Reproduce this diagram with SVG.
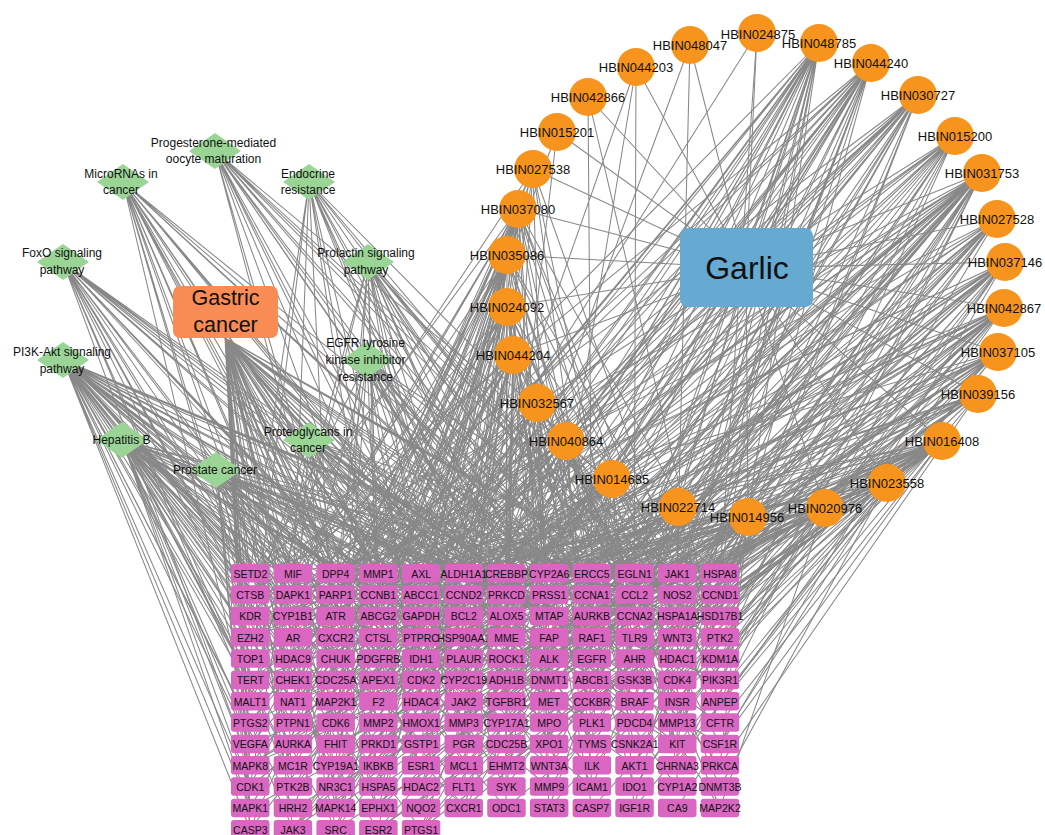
<svg xmlns="http://www.w3.org/2000/svg" xmlns:xlink="http://www.w3.org/1999/xlink" width="1045" height="835" viewBox="0 0 1045 835">
<style>
text{font-family:"Liberation Sans",Arial,sans-serif;fill:#111}
.e path{stroke:#888;stroke-width:1.05;fill:none}
.c{fill:#f7941d}
.d{fill:#9ad596}
.ct{font-size:13px;text-anchor:middle}
.dt{font-size:12px;text-anchor:middle}
.gr rect{fill:#d966c0;width:38.5px;height:18.5px;rx:3px;ry:3px}
.gr text{font-size:10.5px;text-anchor:middle}
</style>
<defs>
<polygon id="dm" class="d" points="-26,0 0,-18 26,0 0,18"/>
</defs>
<rect width="1045" height="835" fill="#fff"/>
<g id="edges" class="e">
<path id="e-gastric" d="M225 338L250 573M225 338L293 573M225 338L336 573M225 338L378 573M225 338L421 573M225 338L464 573M225 338L506 573M225 338L549 573M225 338L250 595M225 338L336 595M225 338L421 595M225 338L506 595M225 338L592 595M225 338L293 616M225 338L378 616M225 338L464 616M225 338L549 616M225 338L634 616M225 338L250 637M225 338L336 637M225 338L421 637M225 338L677 637M225 338L293 659M225 338L378 659M225 338L506 659M225 338L592 659M225 338L250 680M225 338L336 680M225 338L464 680M225 338L250 701M225 338L378 701M225 338L549 701M225 338L293 723M225 338L421 723M225 338L250 744M225 338L336 744M225 338L250 765M225 338L378 765M225 338L293 787M225 338L250 808M225 338L336 808M225 338L250 829M225 338L293 829M225 338L634 573M225 338L677 595M225 338L720 616M225 338L506 637M225 338L634 680M225 338L464 701M225 338L592 723M225 338L421 765M225 338L506 787M225 338L378 808M225 338L336 829M225 338L549 659"/>
<path id="e-microrna" d="M123 182L250 616M123 182L293 573M123 182L293 637M123 182L336 595M123 182L336 680M123 182L378 573M123 182L378 659M123 182L421 616M123 182L421 723M123 182L464 595M123 182L464 765M123 182L506 637M123 182L549 573M123 182L549 680M123 182L592 616M123 182L634 595M123 182L677 659M123 182L250 723M123 182L293 744M123 182L336 787M123 182L506 744"/>
<path id="e-progesterone" d="M215 151L336 573M215 151L378 595M215 151L421 573M215 151L464 637M215 151L506 573M215 151L506 680M215 151L549 595M215 151L592 573M215 151L634 573M215 151L634 637M215 151L677 595M215 151L720 573M215 151L720 616M215 151L592 701M215 151L464 723M215 151L378 765M215 151L677 787"/>
<path id="e-endocrine" d="M309 182L250 573M309 182L293 595M309 182L378 637M309 182L421 659M309 182L464 573M309 182L506 616M309 182L549 637M309 182L592 680M309 182L634 659M309 182L677 616M309 182L720 595M309 182L720 701M309 182L336 723M309 182L549 744M309 182L250 659M309 182L421 787"/>
<path id="e-foxo" d="M63 262L250 573M63 262L250 637M63 262L250 701M63 262L293 595M63 262L293 680M63 262L336 616M63 262L336 701M63 262L378 595M63 262L378 680M63 262L421 573M63 262L421 637M63 262L464 616M63 262L464 701M63 262L506 595M63 262L506 723M63 262L549 659M63 262L592 637M63 262L250 765M63 262L293 787M63 262L336 765M63 262L634 680M63 262L677 744"/>
<path id="e-prolactin" d="M368 262L293 573M368 262L336 616M368 262L378 573M368 262L378 680M368 262L421 595M368 262L464 659M368 262L506 573M368 262L506 701M368 262L549 616M368 262L592 595M368 262L634 573M368 262L634 723M368 262L677 573M368 262L677 637M368 262L720 659M368 262L250 701M368 262L336 765M368 262L464 744M368 262L592 787M368 262L720 808"/>
<path id="e-pi3k" d="M63 360L250 573M63 360L250 595M63 360L250 616M63 360L250 659M63 360L250 680M63 360L250 723M63 360L250 744M63 360L250 787M63 360L250 808M63 360L293 573M63 360L293 616M63 360L293 659M63 360L293 701M63 360L293 765M63 360L293 808M63 360L336 573M63 360L336 637M63 360L336 659M63 360L336 744M63 360L378 616M63 360L378 637M63 360L378 701M63 360L378 744M63 360L421 595M63 360L421 680M63 360L421 765M63 360L464 573M63 360L464 637M63 360L464 787M63 360L506 616M63 360L506 659M63 360L549 573M63 360L549 723M63 360L592 616M63 360L592 765M63 360L634 701M63 360L677 680M63 360L720 637M63 360L250 829M63 360L378 829M63 360L634 595M63 360L677 616M63 360L720 744M63 360L549 765"/>
<path id="e-egfr" d="M367 360L250 595M367 360L293 637M367 360L336 573M367 360L378 595M367 360L421 616M367 360L421 701M367 360L464 595M367 360L506 637M367 360L549 573M367 360L549 701M367 360L592 659M367 360L634 616M367 360L677 573M367 360L677 701M367 360L720 637M367 360L720 765M367 360L336 808M367 360L506 787M367 360L592 744"/>
<path id="e-hepb" d="M122 440L250 573M122 440L250 637M122 440L250 680M122 440L250 744M122 440L250 765M122 440L293 595M122 440L293 637M122 440L293 723M122 440L336 573M122 440L336 616M122 440L336 701M122 440L378 573M122 440L378 637M122 440L378 787M122 440L421 616M122 440L421 659M122 440L421 744M122 440L464 573M122 440L464 680M122 440L506 595M122 440L506 765M122 440L549 637M122 440L592 573M122 440L592 723M122 440L634 616M122 440L677 701M122 440L720 680M122 440L293 829M122 440L336 829M122 440L421 829M122 440L720 595M122 440L677 637M122 440L634 744M122 440L549 787M122 440L464 808M122 440L250 787M122 440L250 808M122 440L293 765"/>
<path id="e-proteo" d="M309 440L250 616M309 440L293 659M309 440L336 595M309 440L378 573M309 440L378 723M309 440L421 637M309 440L464 616M309 440L464 744M309 440L506 573M309 440L506 680M309 440L549 595M309 440L549 765M309 440L592 637M309 440L634 573M309 440L634 701M309 440L677 616M309 440L720 573M309 440L720 723M309 440L250 787M309 440L336 808"/>
<path id="e-prostate" d="M216 470L250 595M216 470L250 701M216 470L293 616M216 470L293 680M216 470L336 573M216 470L336 659M216 470L378 616M216 470L378 723M216 470L421 573M216 470L421 701M216 470L464 637M216 470L464 808M216 470L506 595M216 470L506 723M216 470L549 616M216 470L592 680M216 470L634 595M216 470L634 765M216 470L677 659M216 470L720 616M216 470L250 808M216 470L378 808M216 470L293 765M216 470L720 680M216 470L677 744M216 470L592 787M216 470L506 808M216 470L250 765M216 470L336 787M216 470L250 829"/>
<path id="e-garlic" d="M746 268L690 45M746 268L757 33M746 268L819 43M746 268L871 63M746 268L918 95M746 268L955 136M746 268L982 173M746 268L997 219M746 268L1005 262M746 268L1004 308M746 268L998 352M746 268L978 394M746 268L942 441M746 268L887 483M746 268L825 508M746 268L748 517M746 268L678 507M746 268L612 479M746 268L566 441M746 268L537 403M746 268L513 355M746 268L507 307M746 268L507 255M746 268L518 209M746 268L533 169M746 268L557 132M746 268L588 97M746 268L636 67"/>
<path d="M533 169L250 595M533 169L336 637M533 169L421 573M533 169L464 680M533 169L506 616M533 169L549 723M533 169L592 595M533 169L378 765M533 169L677 573M533 169L293 701M533 169L634 659"/>
<path d="M518 209L250 573M518 209L250 659M518 209L293 595M518 209L293 723M518 209L336 616M518 209L336 765M518 209L378 573M518 209L378 680M518 209L421 595M518 209L421 744M518 209L464 637M518 209L464 787M518 209L506 573M518 209L506 701M518 209L549 616M518 209L549 808M518 209L592 659M518 209L634 595M518 209L634 744M518 209L677 637M518 209L720 573M518 209L720 701M518 209L250 787M518 209L378 829M518 209L336 701"/>
<path d="M507 255L250 637M507 255L250 701M507 255L293 573M507 255L293 659M507 255L293 765M507 255L336 595M507 255L336 723M507 255L378 637M507 255L378 787M507 255L421 573M507 255L421 680M507 255L464 616M507 255L464 723M507 255L506 595M507 255L506 765M507 255L549 659M507 255L592 573M507 255L592 701M507 255L634 637M507 255L677 595M507 255L677 744M507 255L720 616M507 255L250 829M507 255L336 829M507 255L421 808"/>
<path d="M507 307L250 616M507 307L250 744M507 307L293 616M507 307L293 680M507 307L336 573M507 307L336 659M507 307L336 787M507 307L378 595M507 307L378 723M507 307L421 616M507 307L421 765M507 307L464 573M507 307L464 701M507 307L506 659M507 307L506 808M507 307L549 595M507 307L549 744M507 307L592 616M507 307L592 765M507 307L634 573M507 307L634 723M507 307L677 680M507 307L720 637M507 307L720 787M507 307L293 808"/>
<path d="M513 355L250 595M513 355L250 723M513 355L293 637M513 355L293 744M513 355L336 595M513 355L336 680M513 355L378 616M513 355L378 744M513 355L421 637M513 355L421 723M513 355L464 595M513 355L464 765M513 355L506 637M513 355L506 744M513 355L549 573M513 355L549 701M513 355L592 595M513 355L592 808M513 355L634 616M513 355L634 787M513 355L677 659M513 355L720 595M513 355L720 744M513 355L250 808M513 355L378 808"/>
<path d="M537 403L250 680M537 403L293 595M537 403L293 787M537 403L336 637M537 403L336 744M537 403L378 659M537 403L378 701M537 403L421 659M537 403L421 787M537 403L464 659M537 403L506 616M537 403L506 723M537 403L549 637M537 403L549 787M537 403L592 723M537 403L634 659M537 403L677 616M537 403L720 680M537 403L250 765M537 403L336 829"/>
<path d="M566 441L250 659M566 441L293 616M566 441L293 701M566 441L336 573M566 441L336 808M566 441L378 637M566 441L378 765M566 441L421 701M566 441L464 680M566 441L464 808M566 441L506 680M566 441L506 787M566 441L549 680M566 441L592 701M566 441L592 787M566 441L634 637M566 441L677 723M566 441L720 659M566 441L720 808M566 441L421 829"/>
<path d="M612 479L250 637M612 479L293 723M612 479L336 701M612 479L378 595M612 479L378 808M612 479L421 680M612 479L421 808M612 479L464 637M612 479L506 595M612 479L293 829M612 479L549 701M612 479L592 616M612 479L592 744M612 479L634 680M612 479L634 808M612 479L677 595M612 479L677 765M612 479L720 723M612 479L336 829M612 479L250 787"/>
<path d="M678 507L293 595M678 507L336 659M678 507L378 701M678 507L421 616M678 507L464 723M678 507L506 637M678 507L549 595M678 507L549 765M678 507L592 659M678 507L634 701M678 507L677 616M678 507L677 787M678 507L720 680M678 507L250 765M678 507L421 829"/>
<path d="M748 517L250 701M748 517L293 637M748 517L336 616M748 517L378 573M748 517L378 744M748 517L421 659M748 517L464 595M748 517L506 701M748 517L549 637M748 517L549 787M748 517L592 573M748 517L592 744M748 517L634 616M748 517L634 765M748 517L677 595M748 517L677 723M748 517L720 573M748 517L720 765M748 517L336 808M748 517L421 765"/>
<path d="M825 508L293 659M825 508L336 723M825 508L378 616M825 508L421 595M825 508L464 701M825 508L506 573M825 508L549 659M825 508L592 637M825 508L634 595M825 508L634 787M825 508L677 701M825 508L720 616M825 508L720 808M825 508L250 744M825 508L378 829"/>
<path d="M887 483L250 616M887 483L250 765M887 483L293 701M887 483L336 595M887 483L336 744M887 483L378 659M887 483L421 573M887 483L421 701M887 483L464 616M887 483L464 787M887 483L506 659M887 483L549 573M887 483L549 723M887 483L592 616M887 483L592 808M887 483L634 595M887 483L634 744M887 483L677 637M887 483L677 808M887 483L720 595M887 483L720 701M887 483L720 787M887 483L378 829M887 483L506 765M887 483L293 808"/>
<path d="M942 441L250 595M942 441L250 680M942 441L293 573M942 441L293 765M942 441L336 637M942 441L336 787M942 441L378 595M942 441L378 723M942 441L421 637M942 441L421 744M942 441L464 573M942 441L464 659M942 441L506 616M942 441L506 744M942 441L549 595M942 441L549 680M942 441L592 595M942 441L592 701M942 441L634 573M942 441L634 659M942 441L677 573M942 441L677 680M942 441L720 616M942 441L720 659M942 441L720 723M942 441L720 744M942 441L250 808M942 441L421 829M942 441L336 829M942 441L506 808"/>
<path d="M978 394L250 637M978 394L293 616M978 394L336 701M978 394L378 637M978 394L421 595M978 394L464 744M978 394L506 659M978 394L549 616M978 394L592 573M978 394L634 637M978 394L677 616M978 394L720 637M978 394L720 765M978 394L378 787M978 394L634 808"/>
<path d="M998 352L250 573M998 352L250 723M998 352L293 680M998 352L336 616M998 352L378 595M998 352L378 765M998 352L421 680M998 352L464 637M998 352L506 595M998 352L506 765M998 352L549 659M998 352L592 616M998 352L592 765M998 352L634 701M998 352L677 595M998 352L677 744M998 352L720 595M998 352L720 701M998 352L293 829M998 352L464 808"/>
<path d="M1004 308L250 659M1004 308L293 595M1004 308L293 744M1004 308L336 637M1004 308L378 701M1004 308L421 573M1004 308L421 765M1004 308L464 616M1004 308L506 680M1004 308L549 573M1004 308L549 744M1004 308L592 680M1004 308L634 616M1004 308L634 723M1004 308L677 659M1004 308L677 765M1004 308L720 573M1004 308L720 659M1004 308L336 787M1004 308L549 808"/>
<path d="M1005 262L250 616M1005 262L293 701M1005 262L336 573M1005 262L336 680M1005 262L378 616M1005 262L421 659M1005 262L464 680M1005 262L464 765M1005 262L506 573M1005 262L549 637M1005 262L592 595M1005 262L592 723M1005 262L634 680M1005 262L677 573M1005 262L677 701M1005 262L720 616M1005 262L720 744M1005 262L378 808M1005 262L250 765M1005 262L634 787"/>
<path d="M997 219L250 595M997 219L293 637M997 219L336 765M997 219L378 637M997 219L421 616M997 219L464 701M997 219L506 637M997 219L549 765M997 219L592 659M997 219L634 573M997 219L677 637M997 219L720 595M997 219L720 680M997 219L421 808M997 219L421 829"/>
<path d="M982 173L250 573M982 173L250 680M982 173L250 787M982 173L293 616M982 173L293 723M982 173L336 573M982 173L336 659M982 173L378 595M982 173L378 701M982 173L421 637M982 173L421 787M982 173L464 595M982 173L464 723M982 173L506 616M982 173L506 701M982 173L549 573M982 173L549 680M982 173L592 573M982 173L592 637M982 173L592 744M982 173L634 573M982 173L634 659M982 173L677 595M982 173L677 659M982 173L677 765M982 173L720 573M982 173L720 637M982 173L720 701M982 173L293 829M982 173L378 829"/>
<path d="M955 136L250 637M955 136L293 659M955 136L336 595M955 136L378 680M955 136L421 616M955 136L464 637M955 136L506 723M955 136L549 616M955 136L592 659M955 136L634 616M955 136L677 616M955 136L720 659M955 136L378 765M955 136L506 787M955 136L634 765"/>
<path d="M918 95L250 595M918 95L250 701M918 95L293 616M918 95L336 637M918 95L336 765M918 95L378 616M918 95L421 595M918 95L421 701M918 95L464 659M918 95L506 595M918 95L506 765M918 95L549 637M918 95L592 573M918 95L592 680M918 95L634 595M918 95L677 637M918 95L677 723M918 95L720 595M918 95L293 787M918 95L464 808"/>
<path d="M871 63L250 573M871 63L250 744M871 63L293 595M871 63L293 680M871 63L336 573M871 63L336 723M871 63L378 659M871 63L421 616M871 63L421 765M871 63L464 573M871 63L464 680M871 63L506 637M871 63L549 595M871 63L549 701M871 63L592 637M871 63L592 787M871 63L634 616M871 63L634 701M871 63L677 573M871 63L677 659M871 63L720 616M871 63L336 808M871 63L421 829M871 63L293 829M871 63L250 829"/>
<path d="M819 43L250 616M819 43L250 723M819 43L293 573M819 43L293 765M819 43L336 637M819 43L378 573M819 43L378 680M819 43L421 595M819 43L421 744M819 43L464 616M819 43L464 723M819 43L506 573M819 43L506 659M819 43L549 616M819 43L549 808M819 43L592 595M819 43L592 701M819 43L634 637M819 43L677 595M819 43L677 744M819 43L720 573M819 43L720 701M819 43L293 829M819 43L378 787M819 43L634 808"/>
<path d="M757 33L720 573M757 33L336 701M690 45L677 573M690 45L464 659M636 67L549 595M636 67L634 637M636 67L421 680M588 97L592 616M588 97L720 659M557 132L506 573M557 132L378 616"/>
</g>
<g id="n-gastric-cancer"><rect x="173" y="286" width="105" height="52" rx="7" fill="#f98b55"/><text x="225.5" y="305" font-size="21.5" text-anchor="middle">Gastric</text><text x="225.5" y="332" font-size="21.5" text-anchor="middle">cancer</text></g>
<g id="n-garlic"><rect x="680" y="228" width="133" height="79" rx="8" fill="#66a9d1"/><text x="747" y="279" font-size="32" text-anchor="middle">Garlic</text></g>
<g id="n-progesterone"><use href="#dm" x="215" y="151"/><text class="dt" x="213.5" y="147">Progesterone-mediated</text><text class="dt" x="213.5" y="163">oocyte maturation</text></g>
<g id="n-microrna"><use href="#dm" x="123" y="182"/><text class="dt" x="121" y="177.5">MicroRNAs in</text><text class="dt" x="121" y="194">cancer</text></g>
<g id="n-endocrine"><use href="#dm" x="309" y="182"/><text class="dt" x="308" y="177.5">Endocrine</text><text class="dt" x="308" y="194">resistance</text></g>
<g id="n-foxo"><use href="#dm" x="63" y="262"/><text class="dt" x="62" y="257">FoxO signaling</text><text class="dt" x="62" y="273.5">pathway</text></g>
<g id="n-prolactin"><use href="#dm" x="368" y="262"/><text class="dt" x="366" y="257">Prolactin signaling</text><text class="dt" x="366" y="273.5">pathway</text></g>
<g id="n-pi3k"><use href="#dm" x="63" y="360"/><text class="dt" x="62" y="356">PI3K-Akt signaling</text><text class="dt" x="62" y="372.5">pathway</text></g>
<g id="n-egfr"><use href="#dm" x="367" y="360"/><text class="dt" x="365.5" y="347">EGFR tyrosine</text><text class="dt" x="365.5" y="364">kinase inhibitor</text><text class="dt" x="365.5" y="381">resistance</text></g>
<g id="n-hepatitis-b"><use href="#dm" x="122" y="440"/><text class="dt" x="121.5" y="444">Hepatitis B</text></g>
<g id="n-proteoglycans"><use href="#dm" x="309" y="440"/><text class="dt" x="308" y="436">Proteoglycans in</text><text class="dt" x="308" y="452">cancer</text></g>
<g id="n-prostate"><use href="#dm" x="216" y="470"/><text class="dt" x="215" y="474">Prostate cancer</text></g>
<g id="n-HBIN048047"><circle class="c" cx="690" cy="45" r="19"/><text class="ct" x="690" y="49.5">HBIN048047</text></g>
<g id="n-HBIN024875"><circle class="c" cx="757" cy="33" r="19"/><text class="ct" x="758" y="38.5">HBIN024875</text></g>
<g id="n-HBIN048785"><circle class="c" cx="819" cy="43" r="19"/><text class="ct" x="819" y="47.5">HBIN048785</text></g>
<g id="n-HBIN044240"><circle class="c" cx="871" cy="63" r="19"/><text class="ct" x="871" y="67.5">HBIN044240</text></g>
<g id="n-HBIN030727"><circle class="c" cx="918" cy="95" r="19"/><text class="ct" x="918" y="99.5">HBIN030727</text></g>
<g id="n-HBIN015200"><circle class="c" cx="955" cy="136" r="19"/><text class="ct" x="955" y="140.5">HBIN015200</text></g>
<g id="n-HBIN031753"><circle class="c" cx="982" cy="173" r="19"/><text class="ct" x="982" y="177.5">HBIN031753</text></g>
<g id="n-HBIN027528"><circle class="c" cx="997" cy="219" r="19"/><text class="ct" x="997" y="223.5">HBIN027528</text></g>
<g id="n-HBIN037146"><circle class="c" cx="1005" cy="262" r="19"/><text class="ct" x="1005" y="266.5">HBIN037146</text></g>
<g id="n-HBIN042867"><circle class="c" cx="1004" cy="308" r="19"/><text class="ct" x="1004" y="312.5">HBIN042867</text></g>
<g id="n-HBIN037105"><circle class="c" cx="998" cy="352" r="19"/><text class="ct" x="998" y="356.5">HBIN037105</text></g>
<g id="n-HBIN039156"><circle class="c" cx="978" cy="394" r="19"/><text class="ct" x="978" y="398.5">HBIN039156</text></g>
<g id="n-HBIN016408"><circle class="c" cx="942" cy="441" r="19"/><text class="ct" x="942" y="445.5">HBIN016408</text></g>
<g id="n-HBIN023558"><circle class="c" cx="887" cy="483" r="19"/><text class="ct" x="887" y="487.5">HBIN023558</text></g>
<g id="n-HBIN020976"><circle class="c" cx="825" cy="508" r="19"/><text class="ct" x="825" y="512.5">HBIN020976</text></g>
<g id="n-HBIN014956"><circle class="c" cx="748" cy="517" r="19"/><text class="ct" x="747" y="522">HBIN014956</text></g>
<g id="n-HBIN022714"><circle class="c" cx="678" cy="507" r="19"/><text class="ct" x="678" y="511.5">HBIN022714</text></g>
<g id="n-HBIN014685"><circle class="c" cx="612" cy="479" r="19"/><text class="ct" x="612" y="483.5">HBIN014685</text></g>
<g id="n-HBIN040864"><circle class="c" cx="566" cy="441" r="19"/><text class="ct" x="566" y="445.5">HBIN040864</text></g>
<g id="n-HBIN032567"><circle class="c" cx="537" cy="403" r="19"/><text class="ct" x="537" y="407.5">HBIN032567</text></g>
<g id="n-HBIN044204"><circle class="c" cx="513" cy="355" r="19"/><text class="ct" x="513" y="359.5">HBIN044204</text></g>
<g id="n-HBIN024092"><circle class="c" cx="507" cy="307" r="19"/><text class="ct" x="507" y="311.5">HBIN024092</text></g>
<g id="n-HBIN035086"><circle class="c" cx="507" cy="255" r="19"/><text class="ct" x="507" y="259.5">HBIN035086</text></g>
<g id="n-HBIN037080"><circle class="c" cx="518" cy="209" r="19"/><text class="ct" x="518" y="213.5">HBIN037080</text></g>
<g id="n-HBIN027538"><circle class="c" cx="533" cy="169" r="19"/><text class="ct" x="533" y="173.5">HBIN027538</text></g>
<g id="n-HBIN015201"><circle class="c" cx="557" cy="132" r="19"/><text class="ct" x="557" y="136.5">HBIN015201</text></g>
<g id="n-HBIN042866"><circle class="c" cx="588" cy="97" r="19"/><text class="ct" x="588" y="101.5">HBIN042866</text></g>
<g id="n-HBIN044203"><circle class="c" cx="636" cy="67" r="19"/><text class="ct" x="636" y="71.5">HBIN044203</text></g>
<g class="gr" transform="translate(0,564)">
<g id="g-SETD2"><rect x="231"/><text x="250.3" y="13.5">SETD2</text></g>
<g id="g-MIF"><rect x="273.7"/><text x="293" y="13.5">MIF</text></g>
<g id="g-DPP4"><rect x="316.4"/><text x="335.7" y="13.5">DPP4</text></g>
<g id="g-MMP1"><rect x="359.1"/><text x="378.4" y="13.5">MMP1</text></g>
<g id="g-AXL"><rect x="401.8"/><text x="421.1" y="13.5">AXL</text></g>
<g id="g-ALDH1A1"><rect x="444.5"/><text x="463.8" y="13.5">ALDH1A1</text></g>
<g id="g-CREBBP"><rect x="487.2"/><text x="506.5" y="13.5">CREBBP</text></g>
<g id="g-CYP2A6"><rect x="529.9"/><text x="549.2" y="13.5">CYP2A6</text></g>
<g id="g-ERCC5"><rect x="572.6"/><text x="591.9" y="13.5">ERCC5</text></g>
<g id="g-EGLN1"><rect x="615.3"/><text x="634.6" y="13.5">EGLN1</text></g>
<g id="g-JAK1"><rect x="658"/><text x="677.3" y="13.5">JAK1</text></g>
<g id="g-HSPA8"><rect x="700.7"/><text x="720" y="13.5">HSPA8</text></g>
</g>
<g class="gr" transform="translate(0,585.3)">
<g id="g-CTSB"><rect x="231"/><text x="250.3" y="13.5">CTSB</text></g>
<g id="g-DAPK1"><rect x="273.7"/><text x="293" y="13.5">DAPK1</text></g>
<g id="g-PARP1"><rect x="316.4"/><text x="335.7" y="13.5">PARP1</text></g>
<g id="g-CCNB1"><rect x="359.1"/><text x="378.4" y="13.5">CCNB1</text></g>
<g id="g-ABCC1"><rect x="401.8"/><text x="421.1" y="13.5">ABCC1</text></g>
<g id="g-CCND2"><rect x="444.5"/><text x="463.8" y="13.5">CCND2</text></g>
<g id="g-PRKCD"><rect x="487.2"/><text x="506.5" y="13.5">PRKCD</text></g>
<g id="g-PRSS1"><rect x="529.9"/><text x="549.2" y="13.5">PRSS1</text></g>
<g id="g-CCNA1"><rect x="572.6"/><text x="591.9" y="13.5">CCNA1</text></g>
<g id="g-CCL2"><rect x="615.3"/><text x="634.6" y="13.5">CCL2</text></g>
<g id="g-NOS2"><rect x="658"/><text x="677.3" y="13.5">NOS2</text></g>
<g id="g-CCND1"><rect x="700.7"/><text x="720" y="13.5">CCND1</text></g>
</g>
<g class="gr" transform="translate(0,606.7)">
<g id="g-KDR"><rect x="231"/><text x="250.3" y="13.5">KDR</text></g>
<g id="g-CYP1B1"><rect x="273.7"/><text x="293" y="13.5">CYP1B1</text></g>
<g id="g-ATR"><rect x="316.4"/><text x="335.7" y="13.5">ATR</text></g>
<g id="g-ABCG2"><rect x="359.1"/><text x="378.4" y="13.5">ABCG2</text></g>
<g id="g-GAPDH"><rect x="401.8"/><text x="421.1" y="13.5">GAPDH</text></g>
<g id="g-BCL2"><rect x="444.5"/><text x="463.8" y="13.5">BCL2</text></g>
<g id="g-ALOX5"><rect x="487.2"/><text x="506.5" y="13.5">ALOX5</text></g>
<g id="g-MTAP"><rect x="529.9"/><text x="549.2" y="13.5">MTAP</text></g>
<g id="g-AURKB"><rect x="572.6"/><text x="591.9" y="13.5">AURKB</text></g>
<g id="g-CCNA2"><rect x="615.3"/><text x="634.6" y="13.5">CCNA2</text></g>
<g id="g-HSPA1A"><rect x="658"/><text x="677.3" y="13.5">HSPA1A</text></g>
<g id="g-HSD17B1"><rect x="700.7"/><text x="720" y="13.5">HSD17B1</text></g>
</g>
<g class="gr" transform="translate(0,628)">
<g id="g-EZH2"><rect x="231"/><text x="250.3" y="13.5">EZH2</text></g>
<g id="g-AR"><rect x="273.7"/><text x="293" y="13.5">AR</text></g>
<g id="g-CXCR2"><rect x="316.4"/><text x="335.7" y="13.5">CXCR2</text></g>
<g id="g-CTSL"><rect x="359.1"/><text x="378.4" y="13.5">CTSL</text></g>
<g id="g-PTPRC"><rect x="401.8"/><text x="421.1" y="13.5">PTPRC</text></g>
<g id="g-HSP90AA1"><rect x="444.5"/><text x="463.8" y="13.5">HSP90AA1</text></g>
<g id="g-MME"><rect x="487.2"/><text x="506.5" y="13.5">MME</text></g>
<g id="g-FAP"><rect x="529.9"/><text x="549.2" y="13.5">FAP</text></g>
<g id="g-RAF1"><rect x="572.6"/><text x="591.9" y="13.5">RAF1</text></g>
<g id="g-TLR9"><rect x="615.3"/><text x="634.6" y="13.5">TLR9</text></g>
<g id="g-WNT3"><rect x="658"/><text x="677.3" y="13.5">WNT3</text></g>
<g id="g-PTK2"><rect x="700.7"/><text x="720" y="13.5">PTK2</text></g>
</g>
<g class="gr" transform="translate(0,649.3)">
<g id="g-TOP1"><rect x="231"/><text x="250.3" y="13.5">TOP1</text></g>
<g id="g-HDAC9"><rect x="273.7"/><text x="293" y="13.5">HDAC9</text></g>
<g id="g-CHUK"><rect x="316.4"/><text x="335.7" y="13.5">CHUK</text></g>
<g id="g-PDGFRB"><rect x="359.1"/><text x="378.4" y="13.5">PDGFRB</text></g>
<g id="g-IDH1"><rect x="401.8"/><text x="421.1" y="13.5">IDH1</text></g>
<g id="g-PLAUR"><rect x="444.5"/><text x="463.8" y="13.5">PLAUR</text></g>
<g id="g-ROCK1"><rect x="487.2"/><text x="506.5" y="13.5">ROCK1</text></g>
<g id="g-ALK"><rect x="529.9"/><text x="549.2" y="13.5">ALK</text></g>
<g id="g-EGFR"><rect x="572.6"/><text x="591.9" y="13.5">EGFR</text></g>
<g id="g-AHR"><rect x="615.3"/><text x="634.6" y="13.5">AHR</text></g>
<g id="g-HDAC1"><rect x="658"/><text x="677.3" y="13.5">HDAC1</text></g>
<g id="g-KDM1A"><rect x="700.7"/><text x="720" y="13.5">KDM1A</text></g>
</g>
<g class="gr" transform="translate(0,670.7)">
<g id="g-TERT"><rect x="231"/><text x="250.3" y="13.5">TERT</text></g>
<g id="g-CHEK1"><rect x="273.7"/><text x="293" y="13.5">CHEK1</text></g>
<g id="g-CDC25A"><rect x="316.4"/><text x="335.7" y="13.5">CDC25A</text></g>
<g id="g-APEX1"><rect x="359.1"/><text x="378.4" y="13.5">APEX1</text></g>
<g id="g-CDK2"><rect x="401.8"/><text x="421.1" y="13.5">CDK2</text></g>
<g id="g-CYP2C19"><rect x="444.5"/><text x="463.8" y="13.5">CYP2C19</text></g>
<g id="g-ADH1B"><rect x="487.2"/><text x="506.5" y="13.5">ADH1B</text></g>
<g id="g-DNMT1"><rect x="529.9"/><text x="549.2" y="13.5">DNMT1</text></g>
<g id="g-ABCB1"><rect x="572.6"/><text x="591.9" y="13.5">ABCB1</text></g>
<g id="g-GSK3B"><rect x="615.3"/><text x="634.6" y="13.5">GSK3B</text></g>
<g id="g-CDK4"><rect x="658"/><text x="677.3" y="13.5">CDK4</text></g>
<g id="g-PIK3R1"><rect x="700.7"/><text x="720" y="13.5">PIK3R1</text></g>
</g>
<g class="gr" transform="translate(0,692)">
<g id="g-MALT1"><rect x="231"/><text x="250.3" y="13.5">MALT1</text></g>
<g id="g-NAT1"><rect x="273.7"/><text x="293" y="13.5">NAT1</text></g>
<g id="g-MAP2K1"><rect x="316.4"/><text x="335.7" y="13.5">MAP2K1</text></g>
<g id="g-F2"><rect x="359.1"/><text x="378.4" y="13.5">F2</text></g>
<g id="g-HDAC4"><rect x="401.8"/><text x="421.1" y="13.5">HDAC4</text></g>
<g id="g-JAK2"><rect x="444.5"/><text x="463.8" y="13.5">JAK2</text></g>
<g id="g-TGFBR1"><rect x="487.2"/><text x="506.5" y="13.5">TGFBR1</text></g>
<g id="g-MET"><rect x="529.9"/><text x="549.2" y="13.5">MET</text></g>
<g id="g-CCKBR"><rect x="572.6"/><text x="591.9" y="13.5">CCKBR</text></g>
<g id="g-BRAF"><rect x="615.3"/><text x="634.6" y="13.5">BRAF</text></g>
<g id="g-INSR"><rect x="658"/><text x="677.3" y="13.5">INSR</text></g>
<g id="g-ANPEP"><rect x="700.7"/><text x="720" y="13.5">ANPEP</text></g>
</g>
<g class="gr" transform="translate(0,713.3)">
<g id="g-PTGS2"><rect x="231"/><text x="250.3" y="13.5">PTGS2</text></g>
<g id="g-PTPN1"><rect x="273.7"/><text x="293" y="13.5">PTPN1</text></g>
<g id="g-CDK6"><rect x="316.4"/><text x="335.7" y="13.5">CDK6</text></g>
<g id="g-MMP2"><rect x="359.1"/><text x="378.4" y="13.5">MMP2</text></g>
<g id="g-HMOX1"><rect x="401.8"/><text x="421.1" y="13.5">HMOX1</text></g>
<g id="g-MMP3"><rect x="444.5"/><text x="463.8" y="13.5">MMP3</text></g>
<g id="g-CYP17A1"><rect x="487.2"/><text x="506.5" y="13.5">CYP17A1</text></g>
<g id="g-MPO"><rect x="529.9"/><text x="549.2" y="13.5">MPO</text></g>
<g id="g-PLK1"><rect x="572.6"/><text x="591.9" y="13.5">PLK1</text></g>
<g id="g-PDCD4"><rect x="615.3"/><text x="634.6" y="13.5">PDCD4</text></g>
<g id="g-MMP13"><rect x="658"/><text x="677.3" y="13.5">MMP13</text></g>
<g id="g-CFTR"><rect x="700.7"/><text x="720" y="13.5">CFTR</text></g>
</g>
<g class="gr" transform="translate(0,734.7)">
<g id="g-VEGFA"><rect x="231"/><text x="250.3" y="13.5">VEGFA</text></g>
<g id="g-AURKA"><rect x="273.7"/><text x="293" y="13.5">AURKA</text></g>
<g id="g-FHIT"><rect x="316.4"/><text x="335.7" y="13.5">FHIT</text></g>
<g id="g-PRKD1"><rect x="359.1"/><text x="378.4" y="13.5">PRKD1</text></g>
<g id="g-GSTP1"><rect x="401.8"/><text x="421.1" y="13.5">GSTP1</text></g>
<g id="g-PGR"><rect x="444.5"/><text x="463.8" y="13.5">PGR</text></g>
<g id="g-CDC25B"><rect x="487.2"/><text x="506.5" y="13.5">CDC25B</text></g>
<g id="g-XPO1"><rect x="529.9"/><text x="549.2" y="13.5">XPO1</text></g>
<g id="g-TYMS"><rect x="572.6"/><text x="591.9" y="13.5">TYMS</text></g>
<g id="g-CSNK2A1"><rect x="615.3"/><text x="634.6" y="13.5">CSNK2A1</text></g>
<g id="g-KIT"><rect x="658"/><text x="677.3" y="13.5">KIT</text></g>
<g id="g-CSF1R"><rect x="700.7"/><text x="720" y="13.5">CSF1R</text></g>
</g>
<g class="gr" transform="translate(0,756)">
<g id="g-MAPK8"><rect x="231"/><text x="250.3" y="13.5">MAPK8</text></g>
<g id="g-MC1R"><rect x="273.7"/><text x="293" y="13.5">MC1R</text></g>
<g id="g-CYP19A1"><rect x="316.4"/><text x="335.7" y="13.5">CYP19A1</text></g>
<g id="g-IKBKB"><rect x="359.1"/><text x="378.4" y="13.5">IKBKB</text></g>
<g id="g-ESR1"><rect x="401.8"/><text x="421.1" y="13.5">ESR1</text></g>
<g id="g-MCL1"><rect x="444.5"/><text x="463.8" y="13.5">MCL1</text></g>
<g id="g-EHMT2"><rect x="487.2"/><text x="506.5" y="13.5">EHMT2</text></g>
<g id="g-WNT3A"><rect x="529.9"/><text x="549.2" y="13.5">WNT3A</text></g>
<g id="g-ILK"><rect x="572.6"/><text x="591.9" y="13.5">ILK</text></g>
<g id="g-AKT1"><rect x="615.3"/><text x="634.6" y="13.5">AKT1</text></g>
<g id="g-CHRNA3"><rect x="658"/><text x="677.3" y="13.5">CHRNA3</text></g>
<g id="g-PRKCA"><rect x="700.7"/><text x="720" y="13.5">PRKCA</text></g>
</g>
<g class="gr" transform="translate(0,777.3)">
<g id="g-CDK1"><rect x="231"/><text x="250.3" y="13.5">CDK1</text></g>
<g id="g-PTK2B"><rect x="273.7"/><text x="293" y="13.5">PTK2B</text></g>
<g id="g-NR3C1"><rect x="316.4"/><text x="335.7" y="13.5">NR3C1</text></g>
<g id="g-HSPA5"><rect x="359.1"/><text x="378.4" y="13.5">HSPA5</text></g>
<g id="g-HDAC2"><rect x="401.8"/><text x="421.1" y="13.5">HDAC2</text></g>
<g id="g-FLT1"><rect x="444.5"/><text x="463.8" y="13.5">FLT1</text></g>
<g id="g-SYK"><rect x="487.2"/><text x="506.5" y="13.5">SYK</text></g>
<g id="g-MMP9"><rect x="529.9"/><text x="549.2" y="13.5">MMP9</text></g>
<g id="g-ICAM1"><rect x="572.6"/><text x="591.9" y="13.5">ICAM1</text></g>
<g id="g-IDO1"><rect x="615.3"/><text x="634.6" y="13.5">IDO1</text></g>
<g id="g-CYP1A2"><rect x="658"/><text x="677.3" y="13.5">CYP1A2</text></g>
<g id="g-DNMT3B"><rect x="700.7"/><text x="720" y="13.5">DNMT3B</text></g>
</g>
<g class="gr" transform="translate(0,798.7)">
<g id="g-MAPK1"><rect x="231"/><text x="250.3" y="13.5">MAPK1</text></g>
<g id="g-HRH2"><rect x="273.7"/><text x="293" y="13.5">HRH2</text></g>
<g id="g-MAPK14"><rect x="316.4"/><text x="335.7" y="13.5">MAPK14</text></g>
<g id="g-EPHX1"><rect x="359.1"/><text x="378.4" y="13.5">EPHX1</text></g>
<g id="g-NQO2"><rect x="401.8"/><text x="421.1" y="13.5">NQO2</text></g>
<g id="g-CXCR1"><rect x="444.5"/><text x="463.8" y="13.5">CXCR1</text></g>
<g id="g-ODC1"><rect x="487.2"/><text x="506.5" y="13.5">ODC1</text></g>
<g id="g-STAT3"><rect x="529.9"/><text x="549.2" y="13.5">STAT3</text></g>
<g id="g-CASP7"><rect x="572.6"/><text x="591.9" y="13.5">CASP7</text></g>
<g id="g-IGF1R"><rect x="615.3"/><text x="634.6" y="13.5">IGF1R</text></g>
<g id="g-CA9"><rect x="658"/><text x="677.3" y="13.5">CA9</text></g>
<g id="g-MAP2K2"><rect x="700.7"/><text x="720" y="13.5">MAP2K2</text></g>
</g>
<g class="gr" transform="translate(0,820)">
<g id="g-CASP3"><rect x="231"/><text x="250.3" y="13.5">CASP3</text></g>
<g id="g-JAK3"><rect x="273.7"/><text x="293" y="13.5">JAK3</text></g>
<g id="g-SRC"><rect x="316.4"/><text x="335.7" y="13.5">SRC</text></g>
<g id="g-ESR2"><rect x="359.1"/><text x="378.4" y="13.5">ESR2</text></g>
<g id="g-PTGS1"><rect x="401.8"/><text x="421.1" y="13.5">PTGS1</text></g>
</g>
</svg>
